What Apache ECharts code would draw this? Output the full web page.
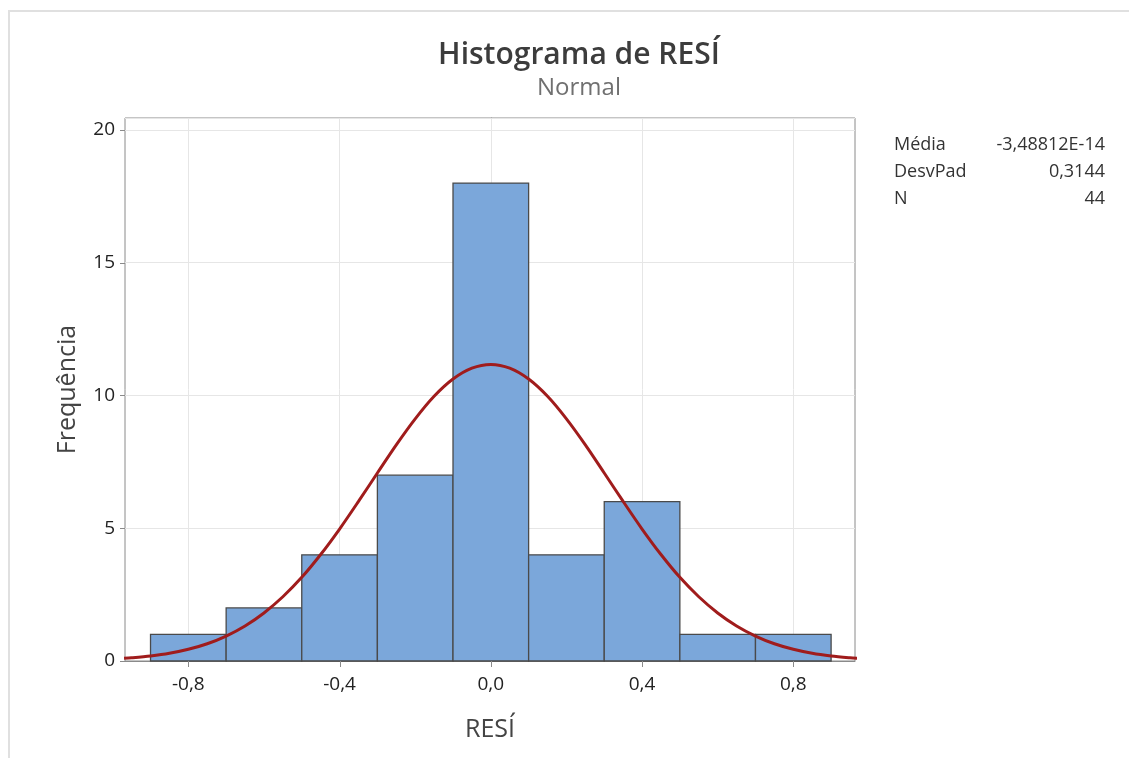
<!DOCTYPE html>
<html>
<head>
<meta charset="utf-8">
<script src="https://cdn.jsdelivr.net/npm/echarts@6/dist/echarts.min.js"></script>
<style>
  html, body { margin: 0; padding: 0; background: #fff; }
  #chart { width: 1129px; height: 758px; }
</style>
</head>
<body>
<div id="chart"></div>
<script>
// classes do histograma (limite inferior, largura 0,2)
const binLow = [-0.9, -0.7, -0.5, -0.3, -0.1, 0.1, 0.3, 0.5, 0.7];
const binWidth = 0.2;
const counts = [1, 2, 4, 7, 18, 4, 6, 1, 1];

// curva normal ajustada
const curveX = [-0.97, -0.95, -0.9, -0.85, -0.8, -0.75, -0.7, -0.65, -0.6, -0.55, -0.5, -0.45, -0.4, -0.35, -0.3, -0.25, -0.2, -0.15, -0.1, -0.05,
                0.0, 0.05, 0.1, 0.15, 0.2, 0.25, 0.3, 0.35, 0.4, 0.45, 0.5, 0.55, 0.6, 0.65, 0.7, 0.75, 0.8, 0.85, 0.9, 0.95, 0.97];
const curveY = [0.10, 0.12, 0.19, 0.29, 0.44, 0.65, 0.94, 1.32, 1.81, 2.42, 3.15, 4.01, 4.97, 6.01, 7.08, 8.14, 9.12, 9.97, 10.62, 11.03,
                11.17, 11.03, 10.62, 9.97, 9.12, 8.14, 7.08, 6.01, 4.97, 4.01, 3.15, 2.42, 1.81, 1.32, 0.94, 0.65, 0.44, 0.29, 0.19, 0.12, 0.10];

const xTicks = [-0.8, -0.4, 0.0, 0.4, 0.8];
const yTicks = [0, 5, 10, 15, 20];
const statLabels = ['Média', 'DesvPad', 'N'];
const statValues = ['-3,48812E-14', '0,3144', '44'];

const X_MIN = -0.9675, X_MAX = 0.9632;
const FONT = '"Open Sans", "Noto Sans", sans-serif';
const AXIS_GRAY = '#8a8a8a';

const chart = echarts.init(document.getElementById('chart'));

const fmt = v => (Math.abs(v) < 1e-9 ? 0 : v).toFixed(1).replace('.', ',');

const statGraphics = [];
statLabels.forEach((s, i) => {
    statGraphics.push({
        type: 'text', left: 894, top: 136 + i * 27,
        style: { text: s, font: '18px ' + FONT, fill: '#333' }
    });
    statGraphics.push({
        type: 'text', right: 24, top: 136 + i * 27,
        style: { text: statValues[i], font: '18px ' + FONT, fill: '#333', textAlign: 'right' }
    });
});

// marcas de escala desenhadas fora da área do gráfico
const tickLine = (x1, y1, x2, y2) => ({
    type: 'line',
    shape: { x1, y1, x2, y2 },
    style: { stroke: AXIS_GRAY, lineWidth: 1 }
});

chart.setOption({
    animation: false,
    title: {
        text: 'Histograma de RESÍ',
        subtext: 'Normal',
        left: 574, top: 35, textAlign: 'center',
        itemGap: 6,
        textStyle: { fontFamily: FONT, fontSize: 30, fontWeight: 600, color: '#3c3c3c' },
        subtextStyle: { fontFamily: FONT, fontSize: 24, color: '#707070' }
    },
    graphic: [
        { type: 'rect', shape: { x: 9, y: 11, width: 1200, height: 800 },
          style: { fill: 'none', stroke: '#e0e0e0', lineWidth: 2 }, z: -1 }
    ].concat(statGraphics),
    grid: {
        left: 125, right: 274, top: 118, bottom: 97,
        show: true, borderColor: AXIS_GRAY, borderWidth: 1, backgroundColor: '#fff'
    },
    xAxis: {
        type: 'value', min: X_MIN, max: X_MAX,
        name: 'RESÍ', nameLocation: 'middle', nameGap: 56,
        nameTextStyle: { fontFamily: FONT, fontSize: 25, color: '#444' },
        axisLine: { show: true, lineStyle: { color: AXIS_GRAY, width: 1 } },
        axisTick: { show: false },
        axisLabel: { customValues: xTicks, formatter: fmt, fontFamily: FONT, fontSize: 19, color: '#222', margin: 14 },
        splitLine: { show: false }
    },
    yAxis: {
        type: 'value', min: 0, max: 20.45, interval: 5,
        name: 'Frequência', nameLocation: 'middle', nameGap: 45, nameRotate: 90,
        nameTextStyle: { fontFamily: FONT, fontSize: 25, color: '#444' },
        axisLine: { show: true, lineStyle: { color: AXIS_GRAY, width: 1 } },
        axisTick: { show: false },
        axisLabel: { fontFamily: FONT, fontSize: 19, color: '#222', margin: 10,
                     showMaxLabel: false },
        splitLine: { show: true, lineStyle: { color: '#e6e6e6', width: 1 } }
    },
    series: [
        {
            // linhas de grade verticais
            type: 'line',
            data: [],
            silent: true,
            z: 1,
            markLine: {
                silent: true,
                z: 1,
                symbol: 'none',
                label: { show: false },
                lineStyle: { color: '#e6e6e6', width: 1, type: 'solid' },
                data: xTicks.map(v => ({ xAxis: v }))
            }
        },
        {
            type: 'custom',
            data: binLow.map((b, i) => [b, b + binWidth, counts[i]]),
            encode: { x: [0, 1], y: 2 },
            renderItem: (params, api) => {
                const p0 = api.coord([api.value(0), api.value(2)]);
                const p1 = api.coord([api.value(1), 0]);
                return {
                    type: 'rect',
                    shape: { x: p0[0], y: p0[1], width: p1[0] - p0[0], height: p1[1] - p0[1] },
                    style: { fill: '#7ba7da', stroke: '#4a4a4a', lineWidth: 1.3 }
                };
            },
            z: 2
        },
        {
            type: 'line',
            data: curveX.map((x, i) => [x, curveY[i]]),
            smooth: 0.3,
            showSymbol: false,
            lineStyle: { color: '#a01c1c', width: 3 },
            clip: true,
            z: 3
        },
        {
            // marcas do eixo X
            type: 'custom',
            silent: true,
            clip: false,
            data: xTicks.map(v => [v, 0]),
            renderItem: (params, api) => {
                const p = api.coord([api.value(0), 0]);
                return tickLine(Math.round(p[0]) + 0.5, p[1], Math.round(p[0]) + 0.5, p[1] + 6);
            },
            z: 4
        },
        {
            // marcas do eixo Y
            type: 'custom',
            silent: true,
            clip: false,
            data: yTicks.map(v => [X_MIN, v]),
            renderItem: (params, api) => {
                const p = api.coord([X_MIN, api.value(1)]);
                return tickLine(p[0] - 5, Math.round(p[1]) + 0.5, p[0], Math.round(p[1]) + 0.5);
            },
            z: 4
        }
    ]
});
</script>
</body>
</html>
